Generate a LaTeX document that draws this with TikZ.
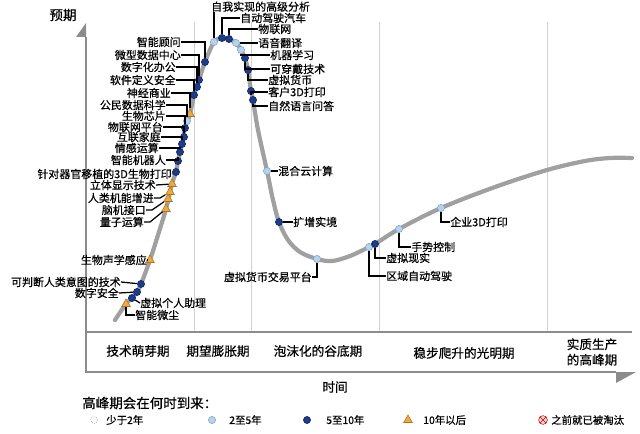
\documentclass[tikz,border=0pt]{standalone}
\usepackage{fontspec}
\setmainfont{Noto Sans CJK SC}[FakeBold=0.6]
\usetikzlibrary{shapes.geometric}
\definecolor{navy}{HTML}{1B3B8B}
\definecolor{ltblue}{HTML}{B7D3EC}
\definecolor{ltedge}{HTML}{7FA5C9}
\definecolor{amber}{HTML}{F2A93B}
\definecolor{hypegray}{HTML}{A0A0A0}
\definecolor{axisgray}{HTML}{8C8C8C}
\definecolor{sepgray}{HTML}{D2D2D2}
\begin{document}
\begin{tikzpicture}[
        x=0.25mm, y=-0.25mm,
        dkdot/.style = {circle, fill=navy, draw=navy!70!black, inner sep=0pt, minimum size=1.8mm},
        ltdot/.style = {circle, fill=ltblue, draw=ltedge, inner sep=0pt, minimum size=1.8mm},
        wtdot/.style = {circle, fill=white, draw=gray, densely dotted, inner sep=0pt, minimum size=1.7mm},
        tri/.style = {regular polygon, regular polygon sides=3, fill=amber, draw=amber!70!black, inner sep=0pt, minimum size=2.5mm},
        gone/.style = {circle, draw=red!80!black, fill=red!15, inner sep=0pt, minimum size=2.2mm,
            path picture={\draw[red!80!black] (path picture bounding box.north west) -- (path picture bounding box.south east)
                (path picture bounding box.north east) -- (path picture bounding box.south west);}},
        lbl/.style = {inner sep=0pt, font=\fontsize{7.8}{9}\selectfont},
        phase/.style = {inner sep=0pt, font=\fontsize{9}{11}\selectfont, align=center},
        lead/.style = {line width=0.9pt},
        axis/.style = {draw=axisgray, line width=1pt},
        sep/.style = {draw=sepgray, line width=0.6pt},
        hype/.style = {draw=hypegray, line width=3pt, line cap=round}
    ]
        \useasboundingbox (0,0) rectangle (640,434);
        \foreach \x in {194,251,379,547} \draw[sep] (\x,22) -- (\x,332);
        \draw[axis] (86,332) -- (632,332);
        \draw[axis] (86,37) -- (86,372) -- (616,372);
        \fill[axisgray] (86,23) -- (86,37) -- (76,37) -- cycle;
        \fill[axisgray] (616,372) -- (636,372) -- (616,383) -- cycle;
        \node[phase] (yax) at (63,15) {\fontsize{9.6}{11}\selectfont 预期};
        \node[phase] (xax) at (335,387) {时间};

        \draw[hype] plot[smooth, tension=0.55] coordinates {(115,320) (126,304) (132,298) (137,292) (141,284)
            (150,260) (158,235) (166,209) (172,184) (176,172) (178,161) (182,144) (185,128) (190,114) (194,95)
            (199,80) (205,62) (214,42) (222,38) (229,39) (236,43) (241,50) (245,58) (248,70) (251,91) (253,100)
            (258,130) (267,171) (273,200) (279,222) (288,240) (300,252) (317,259) (332,261) (350,256) (369,247)
            (375,244) (399,229) (441,208) (495,187) (547,170) (585,161) (610,158) (632,158)};

        \node[dkdot] (m1) at (205,62) {};
        \node[dkdot] (m2) at (199,80) {};
        \node[dkdot] (m3) at (197,87) {};
        \node[dkdot] (m4) at (194,95) {};
        \node[tri] (m5) at (190,114) {};
        \node[ltdot] (m6) at (187,121) {};
        \node[dkdot] (m7) at (185,128) {};
        \node[dkdot] (m8) at (184,137) {};
        \node[dkdot] (m9) at (182,144) {};
        \node[dkdot] (m10) at (180,152) {};
        \node[dkdot] (m11) at (178,161) {};
        \node[dkdot] (m12) at (176,172) {};
        \node[tri] (m13) at (172,184) {};
        \node[tri] (m14) at (170,192) {};
        \node[tri] (m15) at (168,199) {};
        \node[tri] (m16) at (166,209) {};
        \node[tri] (m17) at (150,260) {};
        \node[dkdot] (m18) at (141,284) {};
        \node[dkdot] (m19) at (137,292) {};
        \node[dkdot] (m20) at (132,298) {};
        \node[tri] (m21) at (126,304) {};
        \node[ltdot] (m22) at (214,42) {};
        \node[dkdot] (m23) at (222,38) {};
        \node[dkdot] (m24) at (229,39) {};
        \node[ltdot] (m25) at (236,43) {};
        \node[ltdot] (m26) at (241,50) {};
        \node[dkdot] (m27) at (245,58) {};
        \node[dkdot] (m28) at (248,70) {};
        \node[dkdot] (m29) at (251,91) {};
        \node[dkdot] (m30) at (253,100) {};
        \node[ltdot] (m31) at (267,171) {};
        \node[dkdot] (m32) at (279,222) {};
        \node[ltdot] (m33) at (317,259) {};
        \node[ltdot] (m34) at (369,247) {};
        \node[dkdot] (m35) at (375,244) {};
        \node[ltdot] (m36) at (399,229) {};
        \node[ltdot] (m37) at (441,208) {};

        \node[lbl, anchor=east] (l1) at (181,42) {智能顾问};
        \node[lbl, anchor=east] (l2) at (181,55) {微型数据中心};
        \node[lbl, anchor=east] (l3) at (176,67) {数字化办公};
        \node[lbl, anchor=east] (l4) at (176,80) {软件定义安全};
        \node[lbl, anchor=east] (l5) at (171,93) {神经商业};
        \node[lbl, anchor=east] (l6) at (166,105) {公民数据科学};
        \node[lbl, anchor=east] (l7) at (166,116) {生物芯片};
        \node[lbl, anchor=east] (l8) at (163,127) {物联网平台};
        \node[lbl, anchor=east] (l9) at (161,137) {互联家庭};
        \node[lbl, anchor=east] (l10) at (159,148) {情感运算};
        \node[lbl, anchor=east] (l11) at (166,160) {智能机器人};
        \node[lbl, anchor=east] (l12) at (172,174) {针对器官移植的3D生物打印};
        \node[lbl, anchor=east] (l13) at (156,185) {立体显示技术};
        \node[lbl, anchor=east] (l14) at (154,198) {人类机能增进};
        \node[lbl, anchor=east] (l15) at (146,210) {脑机接口};
        \node[lbl, anchor=east] (l16) at (144,222) {量子运算};
        \node[lbl, anchor=east] (l17) at (147,260) {生物声学感应};
        \node[lbl, anchor=east] (l18) at (121,282) {可判断人类意图的技术};
        \node[lbl, anchor=east] (l19) at (119,293) {数字安全};
        \node[lbl, anchor=west] (l20) at (140,303) {虚拟个人助理};
        \node[lbl, anchor=west] (l21) at (135,315) {智能微尘};
        \node[lbl, anchor=south west] (l22) at (211,12) {自我实现的高级分析};
        \node[lbl, anchor=west] (l23) at (240,18) {自动驾驶汽车};
        \node[lbl, anchor=west] (l24) at (258,29) {物联网};
        \node[lbl, anchor=west] (l25) at (258,43) {语音翻译};
        \node[lbl, anchor=west] (l26) at (270,55) {机器学习};
        \node[lbl, anchor=west] (l27) at (270,69) {可穿戴技术};
        \node[lbl, anchor=west] (l28) at (268,80) {虚拟货币};
        \node[lbl, anchor=west] (l29) at (268,92) {客户3D打印};
        \node[lbl, anchor=west] (l30) at (268,106) {自然语言问答};
        \node[lbl, anchor=west] (l31) at (278,171) {混合云计算};
        \node[lbl, anchor=west] (l32) at (293,222) {扩增实境};
        \node[lbl, anchor=east] (l33) at (312,277) {虚拟货币交易平台};
        \node[lbl, anchor=west] (l34) at (386,276) {区域自动驾驶};
        \node[lbl, anchor=west] (l35) at (386,258) {虚拟现实};
        \node[lbl, anchor=west] (l36) at (411,247) {手势控制};
        \node[lbl, anchor=west] (l37) at (450,222) {企业3D打印};

        \foreach \i in {1,...,11} \draw[lead] (l\i.east) -| (m\i);
        \draw[lead] (l12.east) -- (m12);
        \draw[lead] (l13.east) -- (m13);
        \foreach \i in {14,15,16} \draw[lead] (l\i.east) -- ++(6,0) -- (m\i);
        \foreach \i in {17,18,19} \draw[lead] (l\i.east) -- (m\i);
        \draw[lead] (m20) -- (l20.west);
        \draw[lead] (m21) |- (l21.west);
        \draw[lead] (m22) -- (m22 |- l22.south);
        \draw[lead] (l23.west) -| (m23);
        \draw[lead] (l24.west) -| (m24);
        \draw[lead] (m25) -- (l25.west);
        \foreach \i in {26,...,30} \draw[lead] (m\i) |- (l\i.west);
        \draw[lead] (m31) -- (l31.west);
        \draw[lead] (m32) -- (l32.west);
        \draw[lead] (m33) |- (l33.east);
        \foreach \i in {34,...,37} \draw[lead] (m\i) |- (l\i.west);

        \node[phase] (p1) at (138,351) {技术萌芽期};
        \node[phase] (p2) at (218,351) {期望膨胀期};
        \node[phase] (p3) at (318,351) {泡沫化的谷底期};
        \node[phase] (p4) at (464,353) {稳步爬升的光明期};
        \node[phase] (p5) at (592,352) {实质生产\\的高峰期};

        \node[phase, anchor=west] (key) at (82,403) {\fontsize{9.6}{11}\selectfont 高峰期会在何时到来：};
        \node[wtdot] (k1) at (94,420) {};
        \node[lbl, anchor=west, font=\fontsize{7.4}{9}\selectfont] (t1) at (106,420) {少于2年};
        \node[ltdot] (k2) at (212,420) {};
        \node[lbl, anchor=west, font=\fontsize{7.4}{9}\selectfont] (t2) at (229,420) {2至5年};
        \node[dkdot] (k3) at (307,420) {};
        \node[lbl, anchor=west, font=\fontsize{7.4}{9}\selectfont] (t3) at (326,420) {5至10年};
        \node[tri] (k4) at (408,420) {};
        \node[lbl, anchor=west, font=\fontsize{7.4}{9}\selectfont] (t4) at (423,420) {10年以后};
        \node[gone] (k5) at (543,420) {};
        \node[lbl, anchor=west, font=\fontsize{7.4}{9}\selectfont] (t5) at (551,420) {之前就已被淘汰};
\end{tikzpicture}
\end{document}
